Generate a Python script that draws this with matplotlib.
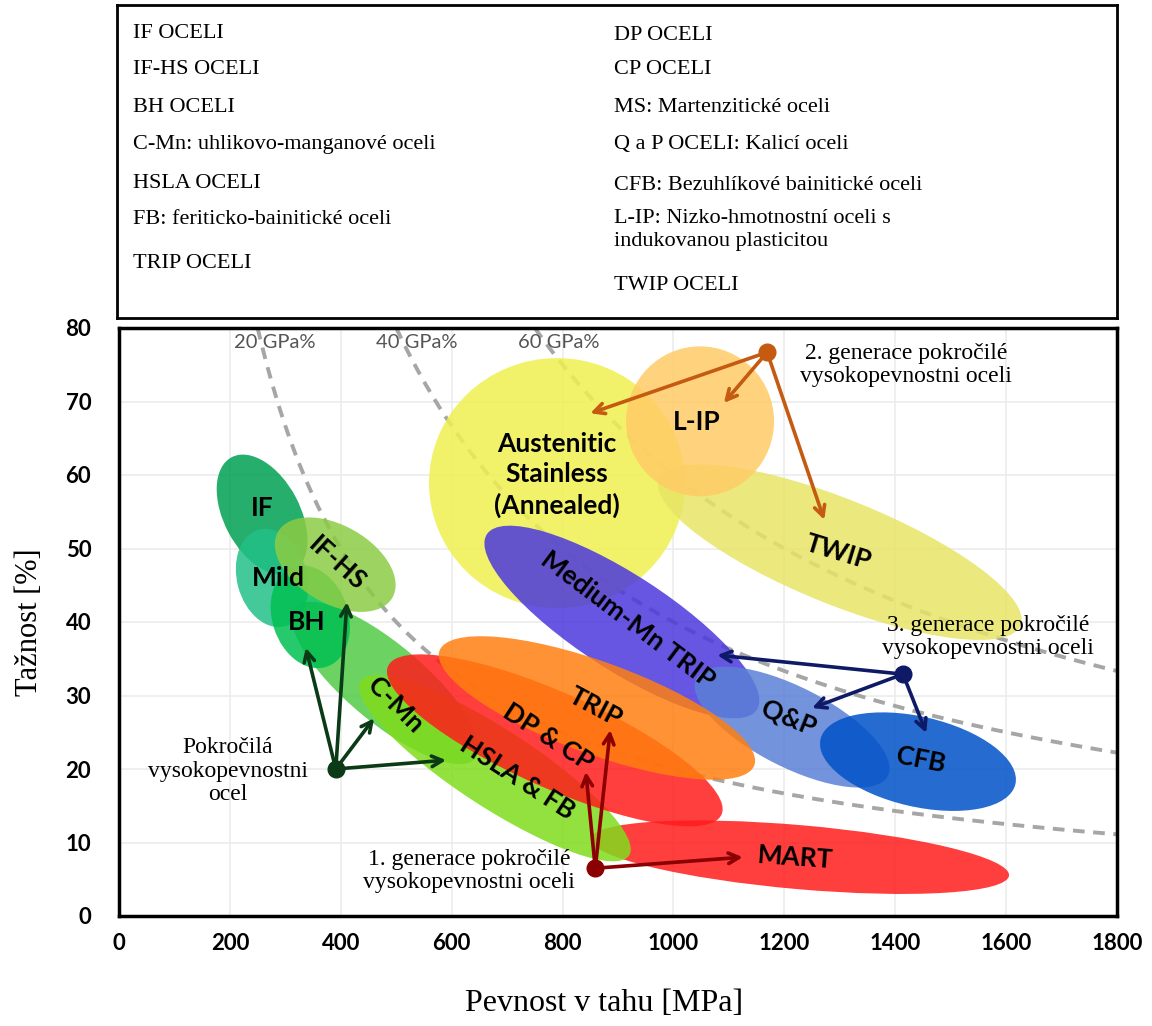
import matplotlib
matplotlib.use("Agg")
import matplotlib.pyplot as plt
from matplotlib.patches import Ellipse
from matplotlib.transforms import ScaledTranslation
import numpy as np

# texty v horním rámečku (legenda)
legend_left = ["IF OCELI", "IF-HS OCELI", "BH OCELI", "C-Mn: uhlikovo-manganové oceli",
               "HSLA OCELI", "FB: feriticko-bainitické oceli", "TRIP OCELI"]
legend_right = ["DP OCELI", "CP OCELI", "MS: Martenzitické oceli", "Q a P OCELI: Kalicí oceli",
                "CFB: Bezuhlíkové bainitické oceli", "L-IP: Nizko-hmotnostní oceli s\nindukovanou plasticitou",
                "TWIP OCELI"]

# skupiny ocelí: střed oblasti (pevnost MPa, tažnost %)
steels = ["Austenitic", "TWIP", "L-IP", "Medium-Mn", "Q&P", "CFB", "MART", "C-Mn",
          "HSLA", "IF", "Mild", "BH", "IF-HS", "DP&CP", "TRIP"]
center_mpa = [790, 1300, 1048, 907, 1214, 1441, 1228, 480, 678, 258, 276, 345, 390, 786, 862]
center_pct = [58.9, 49.5, 67.3, 40.0, 25.7, 21.0, 8.0, 31.7, 20.1, 54.6, 46.0, 40.7, 47.8, 23.9, 28.3]

# popisky oblastí
label_text = ["Austenitic\nStainless\n(Annealed)", "TWIP", "L-IP", "Medium-Mn TRIP", "Q&P", "CFB",
              "MART", "C-Mn", "HSLA & FB", "IF", "Mild", "BH", "IF-HS", "DP & CP", "TRIP"]
label_mpa = [790, 1297, 1042, 918, 1207, 1447, 1219, 498, 718, 258, 287, 339, 393, 774, 859]
label_pct = [60.0, 49.5, 67.2, 40.3, 26.9, 21.2, 7.9, 28.7, 18.8, 55.5, 46.0, 40.0, 48.0, 24.4, 28.4]

# izolinie pevnost x tažnost (MPa·%)
iso_levels = [20000, 40000, 60000]
iso_text = ["20 GPa%", "40 GPa%", "60 GPa%"]
iso_text_mpa = [281, 537, 794]

# generace ocelí - šipky: (start) -> (cíle)
gen_start = [(391, 20.0), (859, 6.5), (1169, 76.7), (1414, 32.9)]
gen_tips = [[(337, 36.5), (411, 42.7), (460, 26.9), (590, 21.2)],
            [(842, 19.6), (886, 25.3), (1125, 8.0)],
            [(850, 68.4), (1091, 69.8), (1272, 53.9)],
            [(1079, 35.5), (1250, 28.3), (1456, 24.9)]]
gen_text = ["Pokročilá\nvysokopevnostni\nocel",
            "1. generace pokročilé\nvysokopevnostni oceli",
            "2. generace pokročilé\nvysokopevnostni oceli",
            "3. generace pokročilé\nvysokopevnostni oceli"]
gen_text_pos = [(196, 19.7), (631, 6.1), (1420, 75.0), (1567, 38.0)]

x_ticks = list(range(0, 1801, 200))
y_ticks = list(range(0, 81, 10))

# --- vzhled ---
W, H = 1152, 1026
ell_w = [256, 390, 148, 322, 215, 200, 420, 235, 320, 130, 100, 105, 132, 365, 335]
ell_h = [250, 105, 150, 95, 80, 90, 64, 78, 78, 76, 70, 76, 78, 95, 92]
ell_ang = [0, -22, 0, -33, -27, -13, -5, -40, -33, -62, -75, -72, -30, -24, -20]
ell_col = ["#f0f050", "#e8e466", "#ffcc66", "#4b38dd", "#5b80d6", "#0052c8", "#ff1c1c", "#52cc48",
           "#80dc1c", "#00a052", "#22c088", "#00c052", "#8ccc44", "#ff1c1c", "#ff7f10"]
label_rot = [0, -17, 0, -37, -22, -11, -4, -45, -33, 0, 0, 0, -42, -33, -28]
gen_col = ["#0b3a17", "#8b0000", "#c55a11", "#0f1a66"]

fig = plt.figure(figsize=(W / 100, H / 100), dpi=100)
ax = fig.add_axes([119 / W, 1 - 916 / H, 998 / W, 588 / H])
ax.set_xlim(0, 1800)
ax.set_ylim(0, 80)

ax.grid(True, color="#ececec", lw=1.2, zorder=0)
ax.set_axisbelow(True)

# izolinie
for lev, txt, tx in zip(iso_levels, iso_text, iso_text_mpa):
    xs = np.linspace(lev / 80, 1800, 300)
    ax.plot(xs, lev / xs, color="#a6a6a6", lw=2.8, ls=(0, (3, 2.2)), zorder=1)
    ax.text(tx, 78, txt, ha="center", va="center", fontsize=14.5, family="Lato",
            color="#555555", zorder=1)

# oblasti ocelí
for i in range(len(steels)):
    off = ScaledTranslation(center_mpa[i], center_pct[i], ax.transData)
    e = Ellipse((0, 0), ell_w[i] / 100, ell_h[i] / 100, angle=ell_ang[i],
                transform=fig.dpi_scale_trans + off, facecolor=ell_col[i],
                edgecolor="none", alpha=0.85, zorder=2)
    ax.add_patch(e)

for t, x, y, r in zip(label_text, label_mpa, label_pct, label_rot):
    ax.text(x, y, t, ha="center", va="center", rotation=r, rotation_mode="anchor",
            fontsize=19, family="Lato", fontweight="bold", linespacing=1.3, zorder=5)

# šipky generací
for (sx, sy), tips, col, txt, (tx, ty) in zip(gen_start, gen_tips, gen_col, gen_text, gen_text_pos):
    for tip in tips:
        ax.annotate("", xy=tip, xytext=(sx, sy),
                    arrowprops=dict(arrowstyle="->,head_length=0.75,head_width=0.38",
                                    color=col, lw=2.6, shrinkA=0, shrinkB=0), zorder=6)
    ax.plot(sx, sy, "o", color=col, ms=12, zorder=7)
    ax.text(tx, ty, txt, ha="center", va="center", fontsize=17, family="Liberation Serif",
            linespacing=1.14, zorder=6)

ax.set_xticks(x_ticks)
ax.set_yticks(y_ticks)
ax.tick_params(length=0, labelsize=16)
ax.tick_params(axis="y", pad=20)
ax.tick_params(axis="x", pad=12)
for lab in ax.get_xticklabels() + ax.get_yticklabels():
    lab.set_family("Lato")
    lab.set_fontweight("bold")
for s in ax.spines.values():
    s.set_linewidth(2.5)
    s.set_color("black")

ax.set_ylabel("Tažnost [%]", family="Liberation Serif", fontsize=22)
ax.yaxis.set_label_coords(-0.09, 0.5)
ax.yaxis.label.set_va("center")
ax.set_xlabel("Pevnost v tahu [MPa]", family="Liberation Serif", fontsize=23)
ax.xaxis.set_label_coords(0.486, -0.148)
ax.xaxis.label.set_va("center")

# horní rámeček s vysvětlivkami
lg = fig.add_axes([117 / W, 1 - 318 / H, 1000 / W, 313 / H])
lg.set_xticks([])
lg.set_yticks([])
for s in lg.spines.values():
    s.set_linewidth(2)
left_y = [33, 69, 107, 144, 183, 220, 263]
right_y = [35, 70, 108, 144, 185, 230, 285]
for t, y in zip(legend_left, left_y):
    fig.text(133 / W, 1 - y / H, t, ha="left", va="center", fontsize=16, family="Liberation Serif")
for t, y in zip(legend_right, right_y):
    fig.text(614 / W, 1 - y / H, t, ha="left", va="center", fontsize=16,
             family="Liberation Serif", linespacing=1.3)

fig.savefig("out.png", dpi=100)
